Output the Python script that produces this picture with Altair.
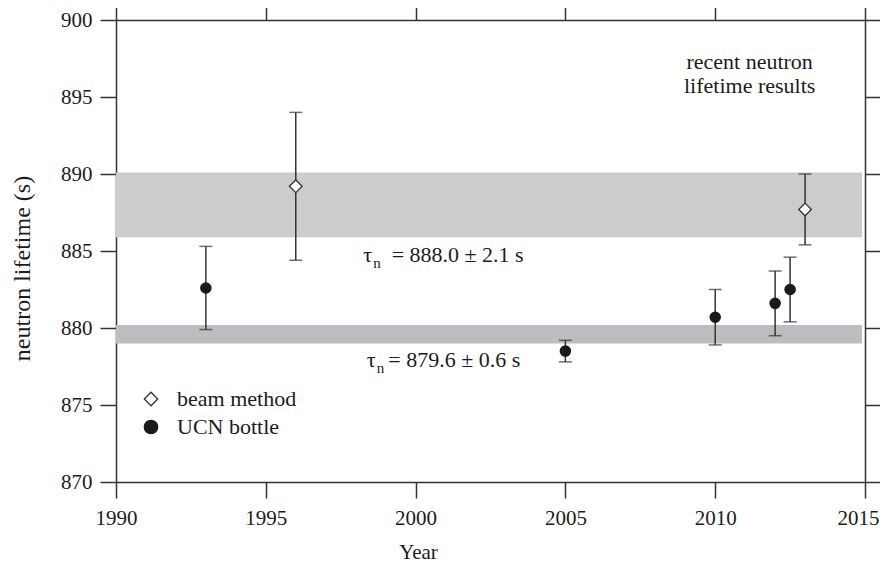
import altair as alt
import pandas as pd

# ---- data ----
beam_year = [1996, 2013]
beam_val = [889.2, 887.7]
beam_lo = [884.4, 885.4]
beam_hi = [894.0, 890.0]

ucn_year = [1993, 2005, 2010, 2012, 2012.5]
ucn_val = [882.6, 878.5, 880.7, 881.6, 882.5]
ucn_lo = [879.9, 877.8, 878.9, 879.5, 880.4]
ucn_hi = [885.3, 879.2, 882.5, 883.7, 884.6]

band_lo = [885.9, 879.0]
band_hi = [890.1, 880.2]
band_start = [1990, 1990]
band_end = [2014.9, 2014.9]
band_name = ["beam", "bottle"]

tau_year = [1998.25, 1998.37]
rest_year = [1999.2, 1999.09]
ann_val = [884.3, 877.5]
ann_rest = ["= 888.0 ± 2.1 s", "= 879.6 ± 0.6 s"]

note_year = [2011.15]
note_val = [896.8]
note_text = ["recent neutron\nlifetime results"]

x_ticks = [1990, 1995, 2000, 2005, 2010, 2015]
y_ticks = [870, 875, 880, 885, 890, 895, 900]
methods = ["beam method", "UCN bottle"]

FONT = "'Liberation Serif', 'Times New Roman', Times, serif"
DARK = "#333333"
TXT = "#1c1c1c"

pts = pd.DataFrame({
    "year": beam_year + ucn_year,
    "val": beam_val + ucn_val,
    "lo": beam_lo + ucn_lo,
    "hi": beam_hi + ucn_hi,
    "method": ["beam method"] * len(beam_year) + ["UCN bottle"] * len(ucn_year),
})
bands = pd.DataFrame({"lo": band_lo, "hi": band_hi, "x0": band_start, "x1": band_end, "name": band_name})
ann = pd.DataFrame({"tau_year": tau_year, "rest_year": rest_year, "val": ann_val, "rest": ann_rest})
note = pd.DataFrame({"year": note_year, "val": note_val, "text": note_text})

xs = alt.Scale(domain=[1990, 2015], nice=False, zero=False)
ys = alt.Scale(domain=[870, 900], nice=False, zero=False)

common_axis = dict(
    grid=False, domainColor=DARK, domainWidth=1.5, tickColor=DARK, tickWidth=1.5,
    tickSize=16, labelFont=FONT, labelFontSize=21, labelColor=TXT, labelFlush=False,
    titleFont=FONT, titleColor=TXT, titleFontWeight="normal",
)

bottom_axis = alt.Axis(values=x_ticks, format="d", orient="bottom", title="Year",
                       labelPadding=9, titleX=302, titleY=76, titleBaseline="alphabetic",
                       titleAlign="center", titleFontSize=21,
                       labelOffset={"condition": {"test": "datum.value == 2015", "value": -7}, "value": 0},
                       **common_axis)
left_axis = alt.Axis(values=y_ticks, orient="left", title="neutron lifetime (s)",
                     labelPadding=8, titleX=-87, titleY=248, titleAngle=-90,
                     titleBaseline="alphabetic", titleAlign="center", titleFontSize=24, **common_axis)
top_axis = alt.Axis(values=x_ticks, orient="top", labels=False, title=None, **common_axis)
right_axis = alt.Axis(values=y_ticks, orient="right", labels=False, title=None, **common_axis)

band_layer = alt.Chart(bands).mark_rect(strokeWidth=0).encode(
    x=alt.X("x0:Q", scale=xs, axis=None),
    x2="x1:Q",
    y=alt.Y("lo:Q", scale=ys, axis=None),
    y2="hi:Q",
    color=alt.Color("name:N", scale=alt.Scale(domain=band_name, range=["#cbccce", "#bcbdc0"]), legend=None),
)

err_layer = alt.Chart(pts).mark_errorbar(
    ticks={"size": 13, "thickness": 1.5, "color": DARK},
    rule={"strokeWidth": 1.5, "color": DARK},
).encode(
    x=alt.X("year:Q", scale=xs, axis=bottom_axis),
    y=alt.Y("lo:Q", scale=ys, axis=left_axis),
    y2="hi:Q",
)

leg = alt.Legend(orient="none", legendX=24, legendY=368, title=None, padding=0,
                 labelFont=FONT, labelFontSize=22, labelColor=TXT, labelOffset=15,
                 symbolSize=180, rowPadding=6, symbolStrokeWidth=1.3)

shape_enc = alt.Shape("method:N", scale=alt.Scale(domain=methods, range=["diamond", "circle"]), legend=leg)
fill_enc = alt.Fill("method:N", scale=alt.Scale(domain=methods, range=["#ffffff", "#1a1a1a"]), legend=leg)
stroke_enc = alt.Stroke("method:N", scale=alt.Scale(domain=methods, range=[DARK, "#1a1a1a"]), legend=leg)

beam_pts = alt.Chart(pts).transform_filter(alt.datum.method == "beam method").mark_point(
    opacity=1, strokeWidth=1.3, size=160
).encode(
    x=alt.X("year:Q", scale=xs, axis=top_axis),
    y=alt.Y("val:Q", scale=ys, axis=right_axis),
    shape=shape_enc, fill=fill_enc, stroke=stroke_enc,
)
ucn_pts = alt.Chart(pts).transform_filter(alt.datum.method == "UCN bottle").mark_point(
    opacity=1, strokeWidth=1.3, size=105
).encode(
    x=alt.X("year:Q", scale=xs, axis=None),
    y=alt.Y("val:Q", scale=ys, axis=None),
    shape=shape_enc, fill=fill_enc, stroke=stroke_enc,
)

tau_layer = alt.Chart(ann).mark_text(font=FONT, fontSize=22, color=TXT, align="left", baseline="alphabetic").encode(
    x=alt.X("tau_year:Q", scale=xs, axis=None),
    y=alt.Y("val:Q", scale=ys, axis=None),
    text=alt.value("τ"),
)
sub_layer = alt.Chart(ann).mark_text(font=FONT, fontSize=15, color=TXT, align="left", baseline="alphabetic",
                                     dx=10, dy=6).encode(
    x=alt.X("tau_year:Q", scale=xs, axis=None),
    y=alt.Y("val:Q", scale=ys, axis=None),
    text=alt.value("n"),
)
rest_layer = alt.Chart(ann).mark_text(font=FONT, fontSize=22, color=TXT, align="left", baseline="alphabetic").encode(
    x=alt.X("rest_year:Q", scale=xs, axis=None),
    y=alt.Y("val:Q", scale=ys, axis=None),
    text="rest:N",
)
note_layer = alt.Chart(note).mark_text(font=FONT, fontSize=22, color=TXT, align="center", baseline="alphabetic",
                                       lineBreak="\n", lineHeight=24).encode(
    x=alt.X("year:Q", scale=xs, axis=None),
    y=alt.Y("val:Q", scale=ys, axis=None),
    text="text:N",
)

chart = alt.layer(
    band_layer, err_layer, beam_pts, ucn_pts, tau_layer, sub_layer, rest_layer, note_layer
).resolve_axis(x="independent", y="independent").properties(
    width=749, height=462,
    autosize=alt.AutoSizeParams(type="none"),
    padding={"left": 108, "top": 12, "right": 15, "bottom": 86},
    background="white",
).configure_view(stroke=None)

chart.save("out.html", embed_options={"renderer": "svg", "actions": False})
